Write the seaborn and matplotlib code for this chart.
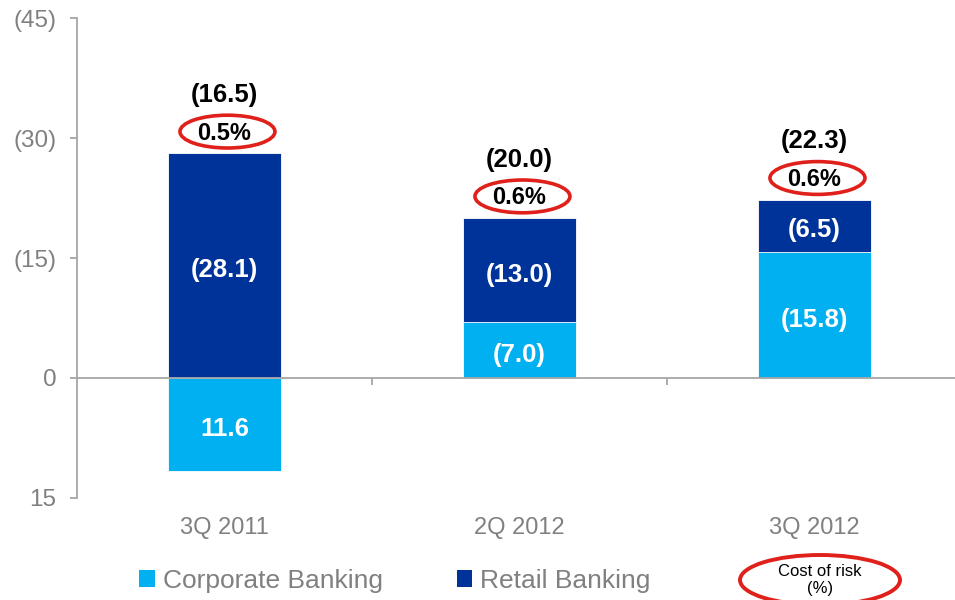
import matplotlib
matplotlib.use("Agg")
import matplotlib.pyplot as plt
from matplotlib.patches import Ellipse, Patch
import seaborn as sns
import pandas as pd

# ---- data ----
categories = ["3Q 2011", "2Q 2012", "3Q 2012"]
corporate = [-11.6, 7.0, 15.8]      # plotted sign: up = provisions
retail = [28.1, 13.0, 6.5]
totals = [16.5, 20.0, 22.3]
cost_of_risk = ["0.5%", "0.6%", "0.6%"]
y_ticks = [-15, 0, 15, 30, 45]
y_tick_labels = ["15", "0", "(15)", "(30)", "(45)"]

LIGHT = "#00B0F0"
DARK = "#003399"
GRAY = "#A6A6A6"
TXT = "#808080"
RED = "#E0201B"

sns.set_theme(style="white")
plt.rcParams["font.family"] = ["Liberation Sans", "DejaVu Sans"]

fig = plt.figure(figsize=(9.55, 6.0), dpi=100)
ax = fig.add_axes([77 / 955, 102 / 600, (955 - 77) / 955, 480 / 600])

retail_top = [max(c, 0) + r for c, r in zip(corporate, retail)]
df = pd.DataFrame({"cat": categories, "corp": corporate, "rtop": retail_top})

sns.barplot(data=df, x="cat", y="rtop", color=DARK, width=0.383, ax=ax,
            saturation=1, edgecolor="white", linewidth=0.6)
sns.barplot(data=df, x="cat", y="corp", color=LIGHT, width=0.383, ax=ax,
            saturation=1, edgecolor="white", linewidth=0.6)

ax.set_xlim(-0.5, -0.5 + (955 - 77) / 295)
ax.set_ylim(-15, 45)
ax.set_xlabel("")
ax.set_ylabel("")

# spines
for s in ["top", "right"]:
    ax.spines[s].set_visible(False)
ax.spines["left"].set_color(GRAY)
ax.spines["left"].set_linewidth(1.3)
ax.spines["bottom"].set_position(("data", 0))
ax.spines["bottom"].set_color(GRAY)
ax.spines["bottom"].set_linewidth(1.3)

ax.set_yticks(y_ticks)
ax.set_yticklabels(y_tick_labels)
ax.tick_params(axis="y", which="major", left=True, direction="out", length=5,
               width=1.3, color=GRAY, labelcolor=TXT, labelsize=17.5, pad=10)
ax.set_xticks(range(len(categories)))
ax.set_xticklabels(categories)
ax.tick_params(axis="x", which="major", bottom=True, length=0,
               labelcolor=TXT, labelsize=17, pad=100)
ax.set_xticks([0.5, 1.5], minor=True)
ax.tick_params(axis="x", which="minor", bottom=True, direction="out",
               length=5, width=1.3, color=GRAY)

# labels
for i, (c, r, t, p) in enumerate(zip(corporate, retail, totals, cost_of_risk)):
    base = max(c, 0)
    top = base + r
    ax.text(i, base + r / 2 - 0.6, f"({r:.1f})", ha="center", va="center",
            color="white", fontsize=18.5, fontweight="bold")
    clab = f"({c:.1f})" if c > 0 else f"{-c:.1f}"
    ax.text(i, c / 2 - 0.6, clab, ha="center", va="center",
            color="white", fontsize=18.5, fontweight="bold")
    ax.text(i, top + 7.3, f"({t:.1f})", ha="center", va="center",
            color="black", fontsize=18.5, fontweight="bold")
    ax.text(i, top + 2.5, p, ha="center", va="center",
            color="black", fontsize=17, fontweight="bold")
    ax.add_patch(Ellipse((i + 0.01, top + 2.7), 0.322, 4.1, fill=False,
                         edgecolor=RED, linewidth=2.6, clip_on=False))

# legend
handles = [Patch(facecolor=LIGHT, edgecolor="none"),
           Patch(facecolor=DARK, edgecolor="none")]
leg = fig.legend(handles, ["Corporate Banking", "Retail Banking"],
                 loc="center left", bbox_to_anchor=(139 / 955, 1 - 581 / 600),
                 ncol=2, frameon=False, fontsize=19, handlelength=0.6,
                 handleheight=0.6, handletextpad=0.3, columnspacing=2.8,
                 borderpad=0, borderaxespad=0)
for t in leg.get_texts():
    t.set_color(TXT)

fig.patches.append(Ellipse((820 / 955, 1 - 580 / 600), 160 / 955, 50 / 600,
                           transform=fig.transFigure, fill=False,
                           edgecolor=RED, linewidth=2.8, figure=fig))
fig.text(820 / 955, 1 - 580 / 600, "Cost of risk\n(%)", ha="center",
         va="center", fontsize=12, color="black", linespacing=1.1)

fig.savefig("out.png", dpi=100)
